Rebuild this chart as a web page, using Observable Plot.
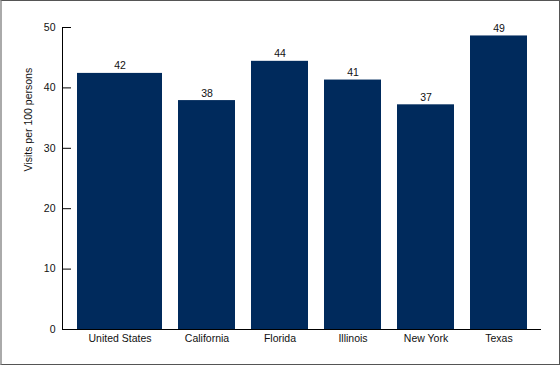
<!DOCTYPE html>
<html>
<head>
<meta charset="utf-8">
<script src="https://cdn.jsdelivr.net/npm/d3@7"></script>
<script src="https://cdn.jsdelivr.net/npm/@observablehq/plot@0.6"></script>
<style>
  html, body { margin: 0; padding: 0; background: #fff; }
  #wrap { position: relative; width: 560px; height: 365px; }
  #border { position: absolute; left: 0; top: 0; width: 560px; height: 365px; box-sizing: border-box;
            border: 1px solid #555; border-left: 2px solid #aaa; pointer-events: none; }
  svg { display: block; }
</style>
</head>
<body>
<div id="wrap"><div id="chart"></div><div id="border"></div></div>
<script>
const categories = ["United States", "California", "Florida", "Illinois", "New York", "Texas"];
const values = [42.4, 37.9, 44.4, 41.3, 37.2, 48.6];
const yTicks = [0, 10, 20, 30, 40, 50];
const yLabel = "Visits per 100 persons";

const data = categories.map((c, i) => ({category: c, value: values[i]}));
const W = 560, H = 365, mL = 62, mR = 19, mT = 27, mB = 36;
const color = "#002a5c";
const font = "Liberation Sans, Arial, sans-serif";
const isUS = d => d.category === categories[0];

const chart = Plot.plot({
  width: W, height: H,
  marginLeft: mL, marginRight: mR, marginTop: mT, marginBottom: mB,
  style: {fontFamily: font, fontSize: "10.5px", color: "#111", background: "#fff"},
  x: {domain: categories, range: [94.9, 537.4], paddingInner: 0.226, paddingOuter: 0.113, label: null},
  y: {domain: [0, 50], label: null},
  marks: [
    Plot.barY(data.filter(d => !isUS(d)), {x: "category", y: "value", fill: color}),
    Plot.barY(data.filter(isUS), {x: "category", y: "value", fill: color, insetLeft: -28}),
    Plot.text(data.filter(d => !isUS(d)), {x: "category", y: "value", text: d => Math.round(d.value), lineAnchor: "bottom", dy: -4, fontSize: "10.5px", fill: "#111"}),
    Plot.text(data.filter(isUS), {x: "category", y: "value", text: d => Math.round(d.value), lineAnchor: "bottom", dy: -4, dx: -14, fontSize: "10.5px", fill: "#111"}),
    Plot.axisX(categories.slice(1), {tickSize: 0, tickPadding: 5, label: null}),
    Plot.axisX(categories.slice(0, 1), {tickSize: 0, tickPadding: 5, dx: -14, label: null}),
    Plot.axisY(yTicks, {tickSize: 0, tickPadding: 7, label: null}),
    Plot.ruleY(yTicks, {y: d => d, insetRight: W - mL - mR - 9, stroke: "#000"}),
    Plot.ruleY([0], {stroke: "#000"}),
    Plot.frame({anchor: "left", stroke: "#000"}),
    Plot.text([yLabel], {frameAnchor: "left", rotate: -90, dx: -34, dy: -7, fontSize: "10.5px", fill: "#111"})
  ]
});
document.getElementById("chart").appendChild(chart);
</script>
</body>
</html>
